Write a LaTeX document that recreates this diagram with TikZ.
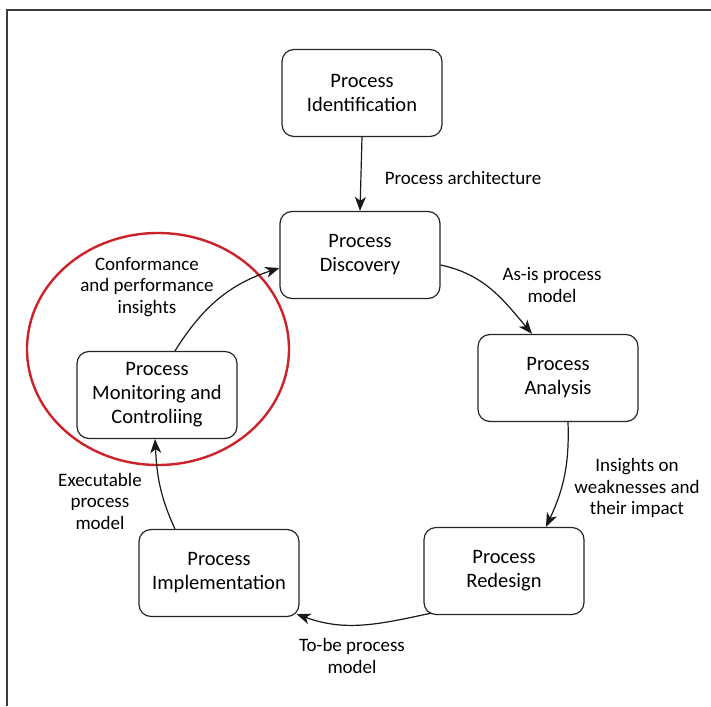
\documentclass[tikz,border=0pt]{standalone}
\usepackage{fontspec}
\setmainfont{Carlito}
\usetikzlibrary{arrows.meta}
\definecolor{framegray}{RGB}{60,60,60}
\definecolor{ringred}{RGB}{204,34,41}
\tikzset{
  procbox/.style={draw=black!85, line width=1.2pt, rounded corners=12pt, minimum width=160pt, minimum height=87pt, inner sep=0pt, align=center, font=\fontsize{20.5}{24}\selectfont},
  lbl/.style={align=center, inner sep=0pt, font=\fontsize{19}{21.5}\selectfont},
  flow/.style={draw=black!90, line width=1.2pt, -{Stealth[length=14pt,width=11pt,inset=4pt]}}
}
\begin{document}
\begin{tikzpicture}[x=1pt,y=-1pt]
\useasboundingbox (0,0) rectangle (711,706);
\fill[white] (0,0) rectangle (711,706);
\draw[framegray, line width=1.3pt] (7,706) -- (7,10) -- (711,10);
\draw[ringred, line width=2.4pt] (158,349) ellipse [x radius=131, y radius=116];

\node[procbox] (ident) at (362,93) {Process\\Identification};
\node[procbox] (disc) at (360,255) {Process\\Discovery};
\node[procbox] (ana) at (558,378) {Process\\Analysis};
\node[procbox] (red) at (504,571) {Process\\Redesign};
\node[procbox] (impl) at (219,573) {Process\\Implementation};
\node[procbox] (mon) at (157,395) {Process\\Monitoring and\\Controliing};

\node[lbl] (l1) at (463,178) {Process architecture};
\node[lbl] (l2) at (552,285) {As-is process\\model};
\node[lbl] (l3) at (637,488) {Insights on\\weaknesses and\\their impact};
\node[lbl] (l4) at (352,656) {To-be process\\model};
\node[lbl] (l5) at (100,501) {Executable\\process\\model};
\node[lbl] (l6) at (147,287) {Conformance\\and performance\\insights};

\draw[flow] (ident.south) -- (disc.north);
\draw[flow] ([yshift=-10pt]disc.east) to[out=-12, in=130] ([xshift=-26pt]ana.north);
\draw[flow] ([xshift=10pt]ana.south) to[out=-88, in=65] ([xshift=42pt]red.north);
\draw[flow] ([xshift=8pt,yshift=2pt]red.south west) to[out=192, in=-20] ([xshift=-3pt,yshift=3pt]impl.south east);
\draw[flow] ([xshift=-44pt]impl.north) to[out=115, in=-87] ([xshift=-2pt]mon.south);
\draw[flow] ([xshift=18pt]mon.north) to[out=58, in=198] ([yshift=-13pt]disc.west);
\end{tikzpicture}
\end{document}
